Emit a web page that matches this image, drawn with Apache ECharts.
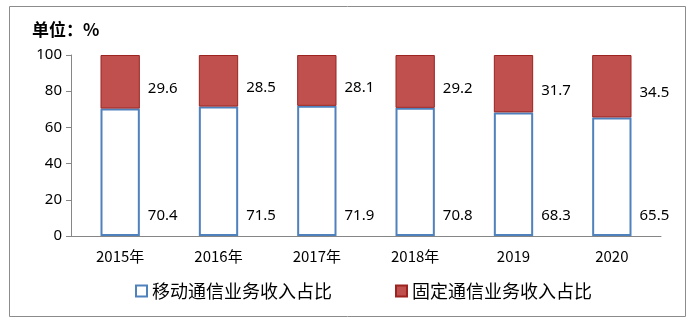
<!DOCTYPE html>
<html>
<head>
<meta charset="utf-8">
<script src="https://cdn.jsdelivr.net/npm/echarts@6/dist/echarts.min.js"></script>
<style>
  html, body { margin: 0; padding: 0; background: #fff; }
  #chart { width: 695px; height: 324px; }
</style>
</head>
<body>
<div id="chart"></div>
<script>
// Share of telecom business revenue: mobile vs fixed (%)
const categories = ['2015年', '2016年', '2017年', '2018年', '2019', '2020'];
const mobileShare = [70.4, 71.5, 71.9, 70.8, 68.3, 65.5];
const fixedShare = [29.6, 28.5, 28.1, 29.2, 31.7, 34.5];
const seriesNames = ['移动通信业务收入占比', '固定通信业务收入占比'];
const unitTitle = '单位：%';

const numFont = '"Noto Sans", "DejaVu Sans", sans-serif';
const cjkFont = '"Noto Sans CJK SC", "Noto Sans", sans-serif';

const chart = echarts.init(document.getElementById('chart'), null, { renderer: 'canvas' });

chart.setOption({
  animation: false,
  backgroundColor: '#fff',
  graphic: [{
    type: 'rect',
    shape: { x: 9.5, y: 6.5, width: 676, height: 310 },
    style: { fill: 'none', stroke: '#8c8c8c', lineWidth: 1 },
    silent: true
  }],
  title: {
    text: unitTitle,
    left: 27,
    top: 16,
    textStyle: { fontFamily: cjkFont, fontSize: 17, fontWeight: 'bold', color: '#000' }
  },
  legend: {
    left: 130,
    top: 277,
    itemGap: 63,
    itemWidth: 11,
    itemHeight: 11,
    icon: 'rect',
    textStyle: { fontFamily: cjkFont, fontSize: 18, color: '#000' },
    data: seriesNames
  },
  grid: { left: 71, right: 34, top: 55, bottom: 88 },
  xAxis: {
    type: 'category',
    data: categories,
    axisLine: { lineStyle: { color: '#868686', width: 1 } },
    axisTick: { inside: true, length: 6, lineStyle: { color: '#868686' } },
    axisLabel: { margin: 13, fontFamily: cjkFont, fontSize: 15, color: '#000' }
  },
  yAxis: {
    type: 'value',
    min: 0,
    max: 100,
    interval: 20,
    axisLine: { show: true, lineStyle: { color: '#868686', width: 1 } },
    axisTick: { show: true, length: 5, lineStyle: { color: '#868686' } },
    splitLine: { show: false },
    axisLabel: { margin: 9, fontFamily: numFont, fontSize: 15, color: '#000' }
  },
  series: [
    {
      name: seriesNames[0],
      type: 'bar',
      stack: 'share',
      barWidth: '40%',
      data: mobileShare,
      itemStyle: { color: '#fff', borderColor: '#4F81BD', borderWidth: 2 },
      label: {
        show: true,
        position: ['100%', '100%'],
        offset: [8, -20],
        align: 'left',
        verticalAlign: 'middle',
        fontFamily: numFont,
        fontSize: 15,
        color: '#000'
      }
    },
    {
      name: seriesNames[1],
      type: 'bar',
      stack: 'share',
      barWidth: '40%',
      data: fixedShare,
      itemStyle: { color: '#C0504D', borderColor: '#9B2320', borderWidth: 1 },
      label: {
        show: true,
        position: 'right',
        distance: 8,
        offset: [0, 7],
        fontFamily: numFont,
        fontSize: 15,
        color: '#000'
      }
    }
  ]
});
</script>
</body>
</html>
